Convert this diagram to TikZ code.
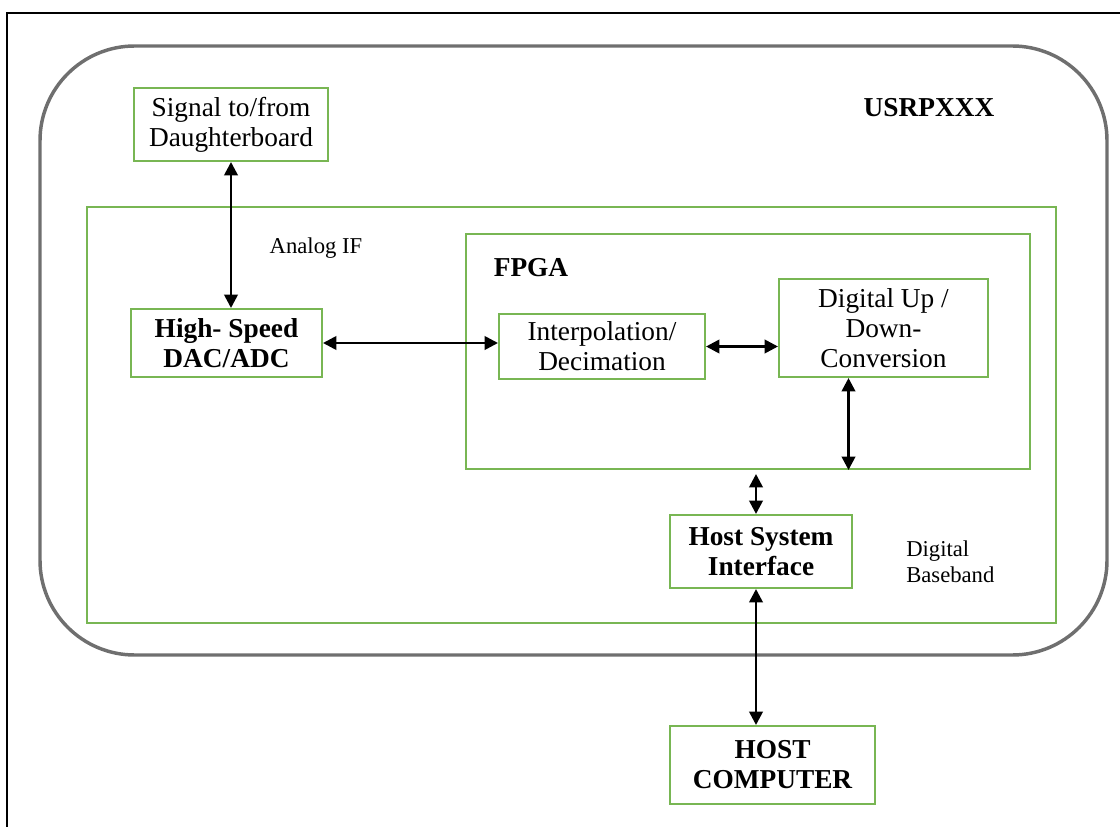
\documentclass[tikz,border=0pt]{standalone}
\usepackage{fontspec}
\setmainfont{Liberation Serif}
\usetikzlibrary{arrows.meta, positioning, calc}
\definecolor{greenA}{HTML}{78B653}
\definecolor{grayA}{HTML}{6F6F6F}
\tikzset{
  blk/.style={
    draw=greenA, fill=white, line width=1.5pt, align=center,
    inner sep=2pt, font=\fontsize{20.5}{22.5}\selectfont
  },
  blkb/.style={blk, font=\fontsize{20.5}{22.5}\selectfont\bfseries},
  zone/.style={draw=greenA, line width=1.5pt, inner sep=0pt},
  biarrow/.style={{Triangle[length=10pt,width=10pt]}-{Triangle[length=10pt,width=10pt]}, line width=2pt},
  tag/.style={font=\fontsize{17}{19.5}\selectfont, align=left, inner sep=0pt}
}

\begin{document}
\begin{tikzpicture}[x=0.75pt, y=-0.75pt]
  \useasboundingbox (0,0) rectangle (1120,827);
  \draw[line width=2.2pt] (7,13) rectangle (1135,845);

  % containers
  \node[draw=grayA, line width=2.6pt, rounded corners=71pt,
    minimum width=800.25pt, minimum height=456.75pt] (usrp) at (573.5,350.5) {};
  \node[zone, minimum width=726.75pt, minimum height=312pt] (board) at (571.5,415) {};
  \node[zone, minimum width=423pt, minimum height=176.25pt] (fpga) at (748,351.5) {};

  % blocks
  \node[blk, minimum width=145.5pt, minimum height=54.75pt] (sig) at (231,124.5)
    {Signal to/from\\Daughterboard};
  \node[blkb, minimum width=143.25pt, minimum height=51pt] (conv) at (226.5,343)
    {High- Speed\\DAC/ADC};
  \node[blk, minimum width=154.5pt, minimum height=48.75pt] (interp) at (602,346.5)
    {Interpolation/\\Decimation};
  \node[blk, minimum width=156.75pt, minimum height=73.5pt] (duc) at (883.5,328)
    {Digital Up /\\Down-\\Conversion};
  \node[blkb, minimum width=136.5pt, minimum height=54.75pt] (hsi) at (761,551.5)
    {Host System\\Interface};
  \node[blkb, minimum width=153.75pt, minimum height=58.5pt] (host) at (772.5,765)
    {HOST\\COMPUTER};

  % labels
  \node[font=\fontsize{20.5}{22.5}\selectfont\bfseries] (usrpname) at (929,108) {USRPXXX};
  \node[tag] (analog) at (316,248) {Analog IF};
  \node[font=\fontsize{20.5}{22.5}\selectfont\bfseries] (fpganame) at (531,268) {FPGA};
  \node[tag, anchor=west] (baseband) at (906,562) {Digital\\Baseband};

  % links
  \draw[biarrow] (sig.south) -- (sig.south |- conv.north);
  \draw[biarrow] (conv.east) -- (conv.east -| interp.west);
  \draw[biarrow] (interp.east) -- (interp.east -| duc.west);
  \coordinate (ducout) at ($(duc.south)+(-35,0)$);
  \draw[biarrow] (ducout) -- (ducout |- fpga.south);
  \coordinate (hsiin) at ($(hsi.north)+(-5,0)$);
  \draw[biarrow] ($(hsiin |- fpga.south)+(0,4)$) -- (hsiin);
  \coordinate (hsiout) at ($(hsi.south)+(-5,0)$);
  \draw[biarrow] (hsiout) -- (hsiout |- host.north);
\end{tikzpicture}
\end{document}
